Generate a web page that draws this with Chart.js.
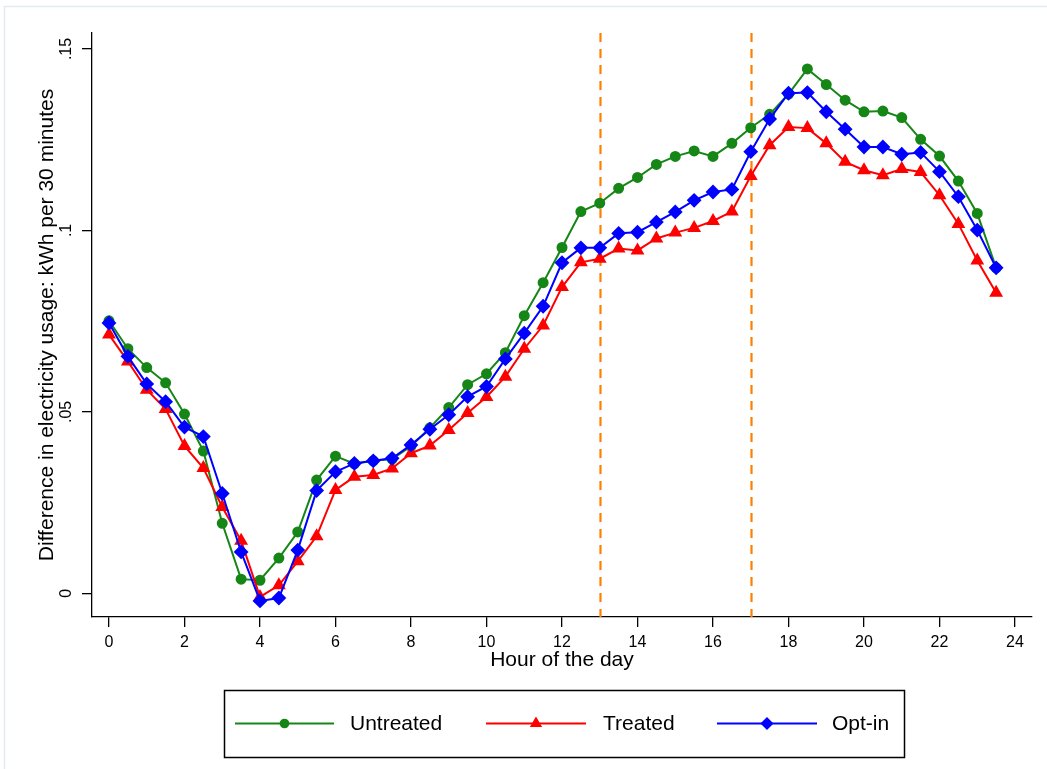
<!DOCTYPE html>
<html>
<head>
<meta charset="utf-8">
<script src="https://cdn.jsdelivr.net/npm/chart.js@4.4.1/dist/chart.umd.min.js"></script>
<style>
  body { margin: 0; background: #fff; }
  #resultat { display: block; }
</style>
</head>
<body>
<canvas id="resultat" width="1047" height="769"></canvas>
<script>
// half-hour slots of the day
let hours = [0, 0.5, 1, 1.5, 2, 2.5, 3, 3.5, 4, 4.5, 5, 5.5, 6, 6.5, 7, 7.5,
             8, 8.5, 9, 9.5, 10, 10.5, 11, 11.5, 12, 12.5, 13, 13.5, 14, 14.5, 15, 15.5,
             16, 16.5, 17, 17.5, 18, 18.5, 19, 19.5, 20, 20.5, 21, 21.5, 22, 22.5, 23, 23.5];

let untreated = [0.0751, 0.0674, 0.0622, 0.0580, 0.0494, 0.0392, 0.0193, 0.0039, 0.0036, 0.0097, 0.0169, 0.0312,
                 0.0378, 0.0357, 0.0365, 0.0370, 0.0405, 0.0456, 0.0512, 0.0575, 0.0605, 0.0663, 0.0765, 0.0856,
                 0.0953, 0.1052, 0.1075, 0.1116, 0.1146, 0.1182, 0.1204, 0.1219, 0.1204, 0.1240, 0.1283, 0.1320,
                 0.1376, 0.1445, 0.1402, 0.1359, 0.1327, 0.1329, 0.1311, 0.1251, 0.1205, 0.1136, 0.1047, 0.0897];

let treated = [0.0713, 0.0639, 0.0561, 0.0508, 0.0406, 0.0345, 0.0238, 0.0145, -0.0010, 0.0022, 0.0088, 0.0157,
               0.0285, 0.0321, 0.0326, 0.0344, 0.0386, 0.0407, 0.0450, 0.0497, 0.0541, 0.0597, 0.0674, 0.0738,
               0.0844, 0.0912, 0.0922, 0.0950, 0.0945, 0.0978, 0.0994, 0.1007, 0.1026, 0.1052, 0.1150, 0.1235,
               0.1285, 0.1282, 0.1240, 0.1189, 0.1166, 0.1152, 0.1169, 0.1161, 0.1097, 0.1018, 0.0917, 0.0828];

let optin = [0.0745, 0.0653, 0.0577, 0.0528, 0.0458, 0.0432, 0.0275, 0.0114, -0.0021, -0.0013, 0.0119, 0.0283,
             0.0335, 0.0358, 0.0365, 0.0372, 0.0409, 0.0452, 0.0492, 0.0542, 0.0570, 0.0646, 0.0717, 0.0791,
             0.0911, 0.0952, 0.0952, 0.0992, 0.0995, 0.1023, 0.1051, 0.1083, 0.1106, 0.1113, 0.1217, 0.1307,
             0.1378, 0.1380, 0.1327, 0.1279, 0.1230, 0.1230, 0.1210, 0.1215, 0.1162, 0.1093, 0.1001, 0.0897];

let seriesNames = ['Untreated', 'Treated', 'Opt-in'];
let xTicks = [0, 2, 4, 6, 8, 10, 12, 14, 16, 18, 20, 22, 24];
let yTicks = [0, 0.05, 0.1, 0.15];
let yTickLabels = ['0', '.05', '.1', '.15'];
let peakBounds = [13, 17];

function toPoints(values){
    return values.map((v, i) => ({x: hours[i], y: v}));
}

// faint outer frame of the graph region (top and left only are visible)
const outerFrame = {
    id: 'outerFrame',
    beforeDraw(chart){
        const ctx = chart.ctx;
        ctx.save();
        ctx.fillStyle = '#fff';
        ctx.fillRect(0, 0, chart.width, chart.height);
        ctx.strokeStyle = '#e3eaee';
        ctx.lineWidth = 1.5;
        ctx.beginPath();
        ctx.moveTo(4.5, chart.height + 5);
        ctx.lineTo(4.5, 6.5);
        ctx.lineTo(chart.width + 5, 6.5);
        ctx.stroke();
        ctx.restore();
    }
};

// dashed vertical lines at the peak window
const peakLines = {
    id: 'peakLines',
    beforeDatasetsDraw(chart){
        const ctx = chart.ctx;
        const area = chart.chartArea;
        const xs = chart.scales.x;
        ctx.save();
        ctx.strokeStyle = 'rgb(255,128,0)';
        ctx.lineWidth = 2.2;
        ctx.setLineDash([9, 7]);
        peakBounds.forEach(h => {
            const px = Math.round(xs.getPixelForValue(h)) + 0.5;
            ctx.beginPath();
            ctx.moveTo(px, area.top);
            ctx.lineTo(px, area.bottom);
            ctx.stroke();
        });
        ctx.restore();
    }
};

// Stata-like legend: boxed, line + marker + label
const boxLegend = {
    id: 'boxLegend',
    afterDraw(chart){
        const ctx = chart.ctx;
        const box = {left: 224, top: 690, right: 904, bottom: 757};
        const cy = (box.top + box.bottom) / 2;
        const items = [
            {lineFrom: 235, lineTo: 334, textX: 350},
            {lineFrom: 486, lineTo: 586, textX: 603},
            {lineFrom: 717, lineTo: 817, textX: 832}
        ];
        ctx.save();
        ctx.strokeStyle = '#000';
        ctx.lineWidth = 1.5;
        ctx.strokeRect(box.left + 0.5, box.top + 0.5, box.right - box.left, box.bottom - box.top);
        chart.data.datasets.forEach((ds, i) => {
            const it = items[i];
            ctx.strokeStyle = ds.borderColor;
            ctx.lineWidth = ds.borderWidth;
            ctx.beginPath();
            ctx.moveTo(it.lineFrom, cy);
            ctx.lineTo(it.lineTo, cy);
            ctx.stroke();
            ctx.fillStyle = ds.pointBackgroundColor;
            ctx.strokeStyle = ds.pointBorderColor;
            Chart.helpers.drawPoint(ctx, {
                pointStyle: ds.pointStyle,
                radius: ds.pointRadius * 0.85,
                rotation: 0,
                borderWidth: 1
            }, (it.lineFrom + it.lineTo) / 2, cy);
            ctx.fillStyle = '#000';
            ctx.font = '21px "Liberation Sans", Arial, sans-serif';
            ctx.textAlign = 'left';
            ctx.textBaseline = 'middle';
            ctx.fillText(ds.label, it.textX, cy + 1);
        });
        ctx.restore();
    }
};

function LineGraph(dst){
    const ctx = document.getElementById(dst).getContext('2d');
    const green = 'rgb(22,134,22)';
    const red = 'rgb(255,0,0)';
    const blue = 'rgb(0,0,255)';

    const chart = new Chart(ctx, {
        type: 'line',
        data: {
            datasets: [{
                label: seriesNames[0],
                data: toPoints(untreated),
                borderColor: green,
                backgroundColor: green,
                pointBackgroundColor: green,
                pointBorderColor: green,
                pointStyle: 'circle',
                pointRadius: 4.5,
                borderWidth: 2,
                order: 2
            }, {
                label: seriesNames[1],
                data: toPoints(treated),
                borderColor: red,
                backgroundColor: red,
                pointBackgroundColor: red,
                pointBorderColor: red,
                pointStyle: 'triangle',
                pointRadius: 6,
                borderWidth: 2,
                order: 1
            }, {
                label: seriesNames[2],
                data: toPoints(optin),
                borderColor: blue,
                backgroundColor: blue,
                pointBackgroundColor: blue,
                pointBorderColor: blue,
                pointStyle: 'rectRot',
                pointRadius: 6,
                borderWidth: 2,
                order: 0
            }]
        },
        options: {
            responsive: false,
            animation: false,
            layout: { padding: { left: 0, right: 15, top: 33, bottom: 92 } },
            plugins: {
                legend: { display: false },
                tooltip: { enabled: false }
            },
            elements: { line: { tension: 0 } },
            scales: {
                x: {
                    type: 'linear',
                    min: -0.45,
                    max: 24.45,
                    afterBuildTicks: s => { s.ticks = xTicks.map(v => ({value: v})); },
                    afterFit: s => { s.height = 60; },
                    grid: { drawOnChartArea: false, drawTicks: true, tickLength: 10, color: '#000', lineWidth: 1.3 },
                    border: { display: true, color: '#000', width: 1.3 },
                    ticks: {
                        color: '#000',
                        padding: 6,
                        maxRotation: 0,
                        font: { family: '"Liberation Sans", Arial, sans-serif', size: 16 }
                    },
                    title: {
                        display: true,
                        text: 'Hour of the day',
                        color: '#000',
                        padding: { top: 2, bottom: 4 },
                        font: { family: '"Liberation Sans", Arial, sans-serif', size: 21 }
                    }
                },
                y: {
                    min: -0.00653,
                    max: 0.15441,
                    afterBuildTicks: s => { s.ticks = yTicks.map(v => ({value: v})); },
                    afterFit: s => { s.width = 92; },
                    grid: { drawOnChartArea: false, drawTicks: true, tickLength: 10, color: '#000', lineWidth: 1.3 },
                    border: { display: true, color: '#000', width: 1.3 },
                    ticks: {
                        color: '#000',
                        padding: 4,
                        minRotation: 90,
                        maxRotation: 90,
                        crossAlign: 'center',
                        font: { family: '"Liberation Sans", Arial, sans-serif', size: 16 },
                        callback: (v) => yTickLabels[yTicks.indexOf(v)]
                    },
                    title: {
                        display: true,
                        text: 'Difference in electricity usage: kWh per 30 minutes',
                        color: '#000',
                        padding: { top: 35, bottom: 0 },
                        font: { family: '"Liberation Sans", Arial, sans-serif', size: 21 }
                    }
                }
            }
        },
        plugins: [outerFrame, peakLines, boxLegend]
    });
    return chart;
}

LineGraph('resultat');
</script>
</body>
</html>
